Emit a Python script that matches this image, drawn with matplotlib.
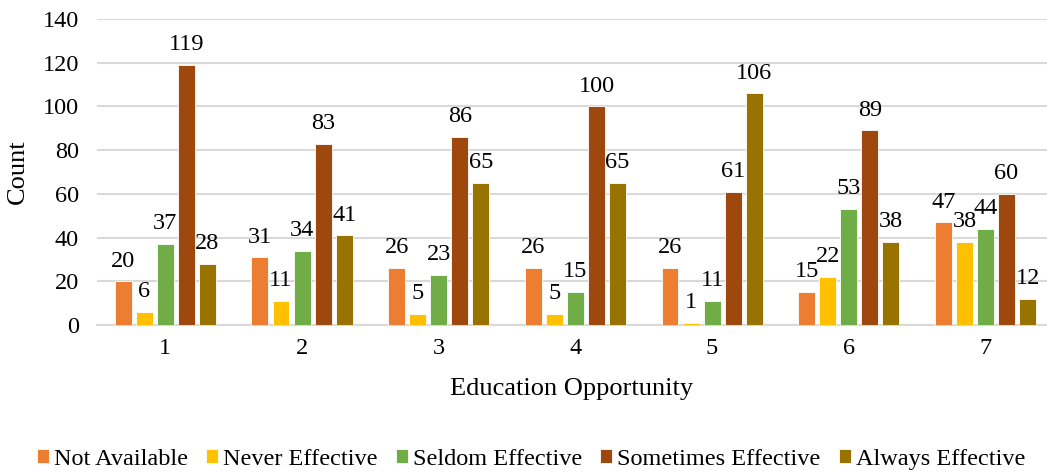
import numpy as np
import matplotlib
matplotlib.use("Agg")
import matplotlib.pyplot as plt

plt.rcParams['font.family'] = ['Liberation Serif', 'DejaVu Serif']

categories = ["1", "2", "3", "4", "5", "6", "7"]
series_names = ["Not Available", "Never Effective", "Seldom Effective",
                "Sometimes Effective", "Always Effective"]
not_available = [20, 31, 26, 26, 26, 15, 47]
never_effective = [6, 11, 5, 5, 1, 22, 38]
seldom_effective = [37, 34, 23, 15, 11, 53, 44]
sometimes_effective = [119, 83, 86, 100, 61, 89, 60]
always_effective = [28, 41, 65, 65, 106, 38, 12]
colors = ["#ED7D31", "#FFC000", "#70AD47", "#9E480E", "#997300"]
y_ticks = [0, 20, 40, 60, 80, 100, 120, 140]

series = [not_available, never_effective, seldom_effective,
          sometimes_effective, always_effective]

fig = plt.figure(figsize=(10.47, 4.73), dpi=100)
ax = fig.add_axes([97 / 1047, 1 - 325 / 473, (1047 - 97) / 1047, (325 - 19) / 473])

x = np.arange(len(categories))
step = 0.154
width = 0.124
for i, (vals, name, col) in enumerate(zip(series, series_names, colors)):
    pos = x + (i - 2) * step
    ax.bar(pos, vals, width=width, color=col, label=name,
           edgecolor="white", linewidth=0.6, zorder=3)
    for p, v in zip(pos, vals):
        ax.annotate(str(v), (p, v), xytext=(0, 7), textcoords="offset points",
                    ha="center", va="bottom", fontsize=17.5, color="#000000",
                    zorder=4)

ax.set_ylim(0, 140)
ax.set_yticks(y_ticks)
ax.set_xlim(-0.5, 6.45)
ax.set_xticks(x)
ax.set_xticklabels(categories)
ax.tick_params(axis="both", length=0, labelsize=17.5, colors="#000000")
ax.tick_params(axis="x", pad=9)
ax.tick_params(axis="y", pad=13)
ax.grid(axis="y", color="#D9D9D9", linewidth=1.5, zorder=0)
for s in ["top", "right", "left"]:
    ax.spines[s].set_visible(False)
ax.spines["bottom"].set_color("#D9D9D9")
ax.spines["bottom"].set_linewidth(1.5)

ax.set_ylabel("Count", fontsize=19, labelpad=10)
ax.set_xlabel("Education Opportunity", fontsize=19, labelpad=14)

fig.legend(loc="lower center", bbox_to_anchor=(0.507, -0.04), ncol=5,
           frameon=False, fontsize=17.5, handlelength=0.5, handleheight=0.5,
           handletextpad=0.2, columnspacing=0.75)

fig.savefig("out.png", dpi=100)
